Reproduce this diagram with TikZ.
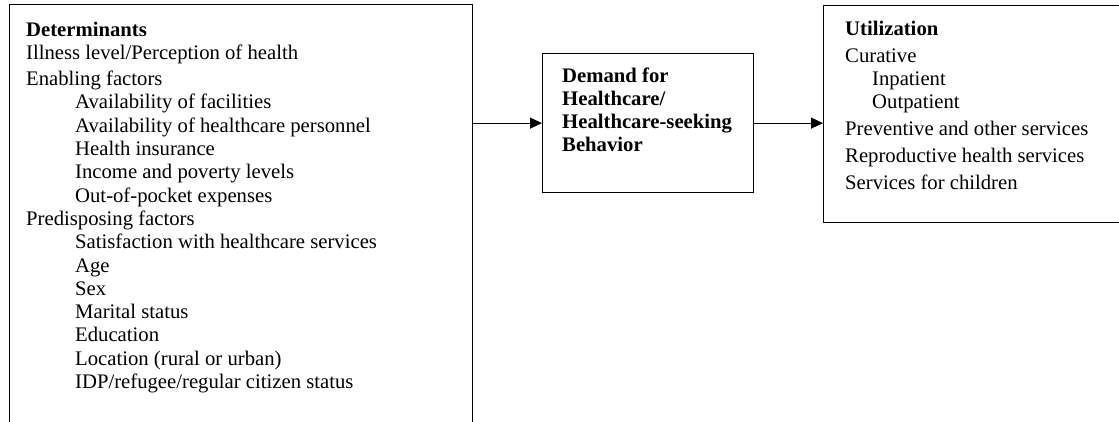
\documentclass[tikz,border=0pt]{standalone}
\usepackage{fontspec}
\setmainfont{Liberation Serif}
\usetikzlibrary{arrows.meta}
\begin{document}
\begin{tikzpicture}[x=1pt,y=-1pt,
  box/.style={draw, line width=1.2pt, inner sep=0pt, anchor=north west},
  txt/.style={anchor=base west, inner sep=0pt, font=\fontsize{20.7}{23}\selectfont},
  btxt/.style={txt, font=\fontsize{20.7}{23}\selectfont\bfseries},
  arr/.style={line width=1.2pt, -{Triangle[length=12pt,width=11pt]}}]
\useasboundingbox (0,0) rectangle (1119,421);
\clip (0,0) rectangle (1119,421);
% boxes
\node[box, minimum width=463pt, minimum height=440pt] (det) at (9,4) {};
\node[box, minimum width=211pt, minimum height=139pt] (dem) at (542,53) {};
\node[box, minimum width=320pt, minimum height=217pt] (uti) at (823,5) {};
% determinants text
\node[btxt] (d1)  at (26,36)    {Determinants};
\node[txt]  (d2)  at (26,59.3)  {Illness level/Perception of health};
\node[txt]  (d3)  at (26,85.6)  {Enabling factors};
\node[txt]  (d4)  at (75,108.9) {Availability of facilities};
\node[txt]  (d5)  at (75,132.2) {Availability of healthcare personnel};
\node[txt]  (d6)  at (75,155.5) {Health insurance};
\node[txt]  (d7)  at (75,178.8) {Income and poverty levels};
\node[txt]  (d8)  at (75,202.1) {Out-of-pocket expenses};
\node[txt]  (d9)  at (26,225.4) {Predisposing factors};
\node[txt]  (d10) at (75,248.7) {Satisfaction with healthcare services};
\node[txt]  (d11) at (75,272)   {Age};
\node[txt]  (d12) at (75,295.3) {Sex};
\node[txt]  (d13) at (75,318.6) {Marital status};
\node[txt]  (d14) at (75,341.9) {Education};
\node[txt]  (d15) at (75,365.2) {Location (rural or urban)};
\node[txt]  (d16) at (75,388.5) {IDP/refugee/regular citizen status};
% demand text
\node[btxt] (m1) at (562,82)  {Demand for};
\node[btxt] (m2) at (562,105) {Healthcare/};
\node[btxt] (m3) at (562,128) {Healthcare-seeking};
\node[btxt] (m4) at (562,151) {Behavior};
% utilization text
\node[btxt] (u1) at (845,35)  {Utilization};
\node[txt]  (u2) at (845,62)  {Curative};
\node[txt]  (u3) at (872,85)  {Inpatient};
\node[txt]  (u4) at (872,108) {Outpatient};
\node[txt]  (u5) at (845,135) {Preventive and other services};
\node[txt]  (u6) at (845,162) {Reproductive health services};
\node[txt]  (u7) at (845,189) {Services for children};
% connectors
\draw[arr] (det.east |- dem.west) -- (dem.west);
\draw[arr] (dem.east) -- (uti.west |- dem.east);
\end{tikzpicture}
\end{document}
